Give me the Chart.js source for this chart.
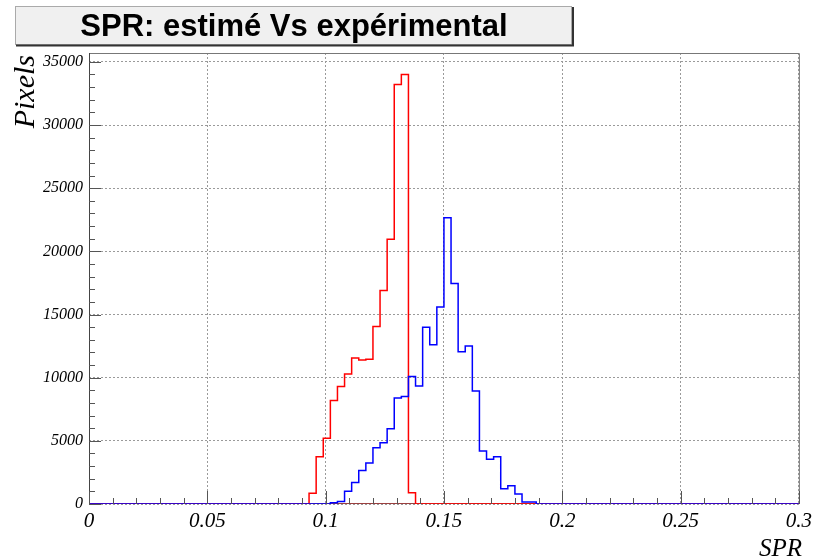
<!DOCTYPE html>
<html>
<head>
<meta charset="utf-8">
<script src="https://cdn.jsdelivr.net/npm/chart.js@4.4.1/dist/chart.umd.min.js"></script>
<style>
  html, body { margin: 0; padding: 0; background: #fff; }
  #wrap { width: 817px; height: 560px; }
</style>
</head>
<body>
<div id="wrap"><canvas id="c" width="817" height="560"></canvas></div>
<script>
// histogram binning: 100 bins over [0, 0.3]
const binWidth = 0.003;
const nBins = 100;

// estimated SPR (red) - first non empty bin index and counts
const redStartBin = 31;
const redCounts = [850, 3750, 5200, 8200, 9300, 10300, 11550, 11400, 11450, 14050,
                   16900, 20950, 33200, 34000, 900];

// experimental SPR (blue)
const blueStartBin = 34;
const blueCounts = [100, 200, 1000, 1700, 2650, 3250, 4450, 4850, 5950, 8400,
                    8500, 10100, 9350, 14000, 12600, 15600, 22650, 17450, 12050, 12500,
                    8950, 4200, 3550, 3750, 1200, 1450, 800, 150, 150];

// third (empty) histogram, only visible along the baseline
const darkStartBin = 0;
const darkCounts = [];

const yMajor = [0, 5000, 10000, 15000, 20000, 25000, 30000, 35000];
const yMax = 35700;

// turn bin counts into step points (left edge of each bin + closing point)
function histPoints(startBin, counts) {
    const pts = [];
    for (let i = 0; i < nBins; i++) {
        const j = i - startBin;
        const v = (j >= 0 && j < counts.length) ? counts[j] : 0;
        pts.push({ x: i * binWidth, y: v });
    }
    pts.push({ x: nBins * binWidth, y: 0 });
    return pts;
}

function isMajor(v, step) {
    const r = v / step;
    return Math.abs(r - Math.round(r)) < 1e-6;
}

const serif = '"Liberation Serif", "DejaVu Serif", serif';

// ROOT-like frame, inner ticks, title box and axis titles
const rootStyle = {
    id: 'rootStyle',
    afterDraw(chart) {
        const ctx = chart.ctx;
        const a = chart.chartArea;
        const xs = chart.scales.x;
        const ys = chart.scales.y;
        ctx.save();

        // frame
        ctx.strokeStyle = '#777';
        ctx.lineWidth = 1;
        ctx.beginPath();
        ctx.moveTo(a.left, a.top + 0.5);
        ctx.lineTo(a.right + 0.5, a.top + 0.5);
        ctx.lineTo(a.right + 0.5, a.bottom);
        ctx.stroke();

        // left axis line
        ctx.strokeStyle = '#444';
        ctx.beginPath();
        ctx.moveTo(a.left + 0.5, a.top);
        ctx.lineTo(a.left + 0.5, a.bottom);
        ctx.stroke();

        // y ticks (inside)
        ctx.strokeStyle = '#555';
        for (let v = 0; v <= yMax; v += 1000) {
            const py = Math.round(ys.getPixelForValue(v)) + 0.5;
            const len = isMajor(v, 5000) ? 12 : 6;
            ctx.beginPath();
            ctx.moveTo(a.left, py);
            ctx.lineTo(a.left + len, py);
            ctx.stroke();
        }
        // x ticks (inside)
        for (let k = 0; k <= 30; k++) {
            const v = k * 0.01;
            const px = Math.round(xs.getPixelForValue(v)) + 0.5;
            const len = (k % 5 === 0) ? 13 : 6;
            ctx.beginPath();
            ctx.moveTo(px, a.bottom);
            ctx.lineTo(px, a.bottom - len);
            ctx.stroke();
        }

        // title box
        ctx.fillStyle = '#f0f0f0';
        ctx.fillRect(15, 6, 557, 39);
        ctx.strokeStyle = '#aaa';
        ctx.strokeRect(15.5, 6.5, 556, 38);
        ctx.strokeStyle = '#333';
        ctx.lineWidth = 2;
        ctx.beginPath();
        ctx.moveTo(16, 45.5);
        ctx.lineTo(573, 45.5);
        ctx.lineTo(573, 7);
        ctx.stroke();

        ctx.fillStyle = '#000';
        ctx.font = 'bold 31px "Liberation Sans", Arial, sans-serif';
        ctx.textAlign = 'center';
        ctx.textBaseline = 'alphabetic';
        ctx.fillText('SPR: estimé Vs expérimental', 294, 36);

        // x axis title
        ctx.font = 'italic 25px ' + serif;
        ctx.textAlign = 'right';
        ctx.fillText('SPR', 802, 556);

        // y axis title
        ctx.translate(34, 55);
        ctx.rotate(-Math.PI / 2);
        ctx.font = 'italic 30px ' + serif;
        ctx.textAlign = 'right';
        ctx.fillText('Pixels', 0, 0);
        ctx.restore();
    }
};

new Chart(document.getElementById('c'), {
    type: 'line',
    data: {
        datasets: [
            {
                label: 'expérimental',
                data: histPoints(blueStartBin, blueCounts),
                borderColor: '#0000ff',
                borderWidth: 1.5,
                stepped: 'before',
                pointRadius: 0,
                fill: false
            },
            {
                label: 'estimé',
                data: histPoints(redStartBin, redCounts),
                borderColor: '#ff0000',
                borderWidth: 1.5,
                stepped: 'before',
                pointRadius: 0,
                fill: false
            },
            {
                label: 'vide',
                data: histPoints(darkStartBin, darkCounts),
                borderColor: '#7a0000',
                borderWidth: 1.5,
                stepped: 'before',
                pointRadius: 0,
                fill: false
            }
        ]
    },
    options: {
        responsive: false,
        animation: false,
        layout: { padding: { top: 53, right: 15, left: 0, bottom: 0 } },
        plugins: {
            legend: { display: false },
            tooltip: { enabled: false }
        },
        scales: {
            x: {
                type: 'linear',
                min: 0,
                max: 0.3,
                afterFit(scale) { scale.height = 56; },
                afterBuildTicks(scale) {
                    scale.ticks = [];
                    for (let k = 0; k <= 30; k++) scale.ticks.push({ value: k * 0.01 });
                },
                ticks: {
                    autoSkip: false,
                    maxRotation: 0,
                    padding: 5,
                    color: '#000',
                    font: { family: serif, style: 'italic', size: 21 },
                    callback(v) {
                        if (!isMajor(v, 0.05)) return '';
                        return String(Number(v.toFixed(2)));
                    }
                },
                grid: {
                    drawTicks: false,
                    color(c) { return (c.tick && isMajor(c.tick.value, 0.05)) ? '#9a9a9a' : 'rgba(0,0,0,0)'; }
                },
                border: { display: false, dash: [2, 2] }
            },
            y: {
                min: 0,
                max: yMax,
                afterFit(scale) { scale.width = 89; },
                afterBuildTicks(scale) {
                    scale.ticks = yMajor.map(v => ({ value: v }));
                },
                ticks: {
                    padding: 6,
                    color: '#000',
                    font: { family: serif, style: 'italic', size: 16 },
                    callback(v) { return String(v); }
                },
                grid: {
                    drawTicks: false,
                    color: '#9a9a9a'
                },
                border: { display: false, dash: [2, 2] }
            }
        }
    },
    plugins: [rootStyle]
});
</script>
</body>
</html>
